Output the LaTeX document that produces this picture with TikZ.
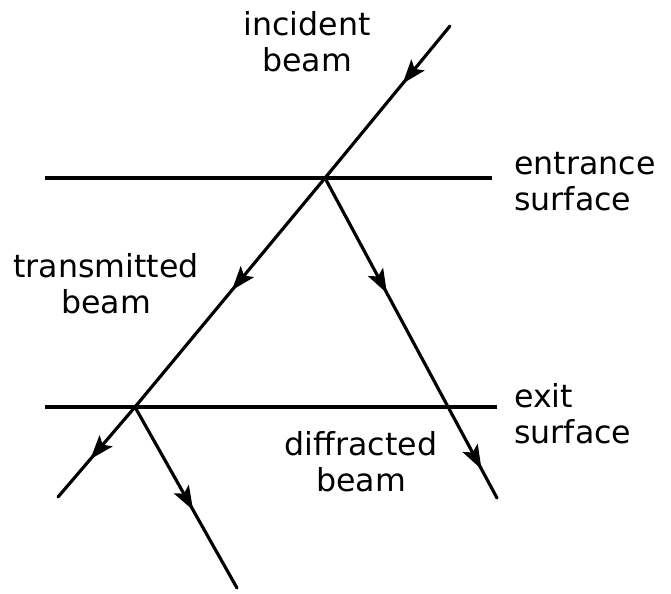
\documentclass[tikz,border=0pt]{standalone}
\usepackage{fontspec}
\setmainfont{DejaVu Sans}
\usetikzlibrary{arrows.meta, decorations.markings}
\tikzset{
  surf/.style={line width=1.8pt},
  ray/.style={line width=1.8pt, line cap=round},
  mid/.style={postaction={decorate, decoration={markings,
      mark=at position #1 with {\arrow{Stealth[length=4.8mm, width=3.4mm, inset=1mm]}}}}},
  lab/.style={font=\fontsize{18}{20.5}\selectfont, inner sep=0pt, align=center}
}

\begin{document}
\begin{tikzpicture}[x=0.02cm, y=-0.02cm]
	\useasboundingbox (0,0) rectangle (671,593);
	% surfaces
	\coordinate (e1) at (45,178);
	\coordinate (e2) at (492,178);
	\coordinate (x1) at (45,407);
	\coordinate (x2) at (497,407);
	% beams
	\coordinate (src) at (450,26);
	\coordinate (A) at (325,178);
	\coordinate (B) at (135,407);
	\coordinate (tEnd) at (58,497);
	\coordinate (dEnd) at (497,498);
	\coordinate (bEnd) at (237,588);
	\draw[surf] (e1) -- (e2);
	\draw[surf] (x1) -- (x2);
	\draw[ray, mid=0.38] (src) -- (A);
	\draw[ray, mid=0.49] (A) -- (B);
	\draw[ray, mid=0.36, mid=0.91] (A) -- (dEnd);
	\draw[ray, mid=0.58] (B) -- (tEnd);
	\draw[ray, mid=0.57] (B) -- (bEnd);
	% labels
	\node[lab, anchor=north] (inc) at (307,11) {incident\\beam};
	\node[lab, anchor=north west, align=left] (ent) at (514,152) {entrance\\surface};
	\node[lab, anchor=north] (tra) at (106,253) {transmitted\\beam};
	\node[lab, anchor=north west, align=left] (ext) at (514,383) {exit\\surface};
	\node[lab, anchor=north] (dif) at (361,431) {diffracted\\beam};
\end{tikzpicture}
\end{document}
